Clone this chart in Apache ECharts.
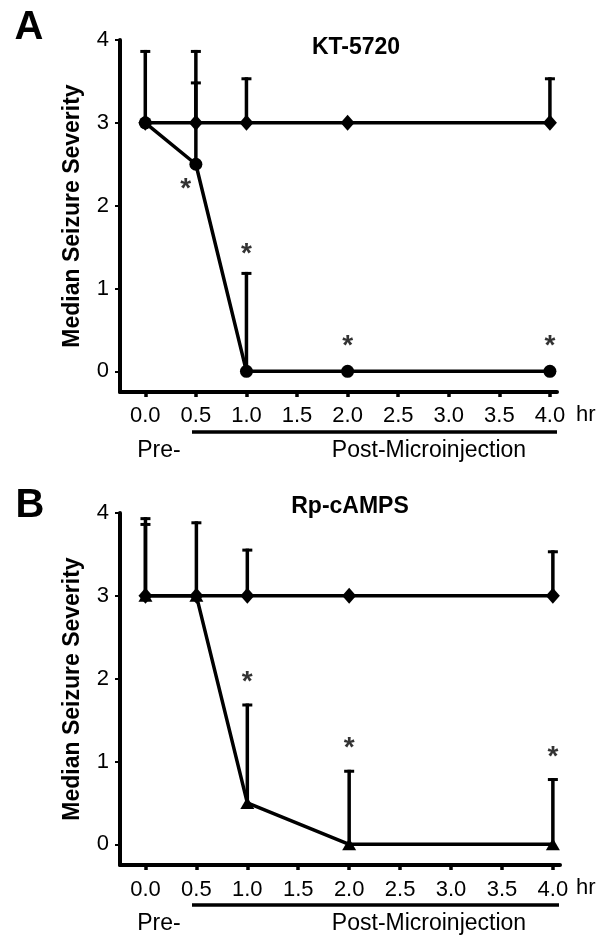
<!DOCTYPE html>
<html>
<head>
<meta charset="utf-8">
<script src="https://cdn.jsdelivr.net/npm/echarts@6/dist/echarts.min.js"></script>
<style>
  html, body { margin: 0; padding: 0; background: #fff; }
  #chart { width: 602px; height: 942px; }
</style>
</head>
<body>
<div id="chart"></div>
<script>
var FONT = '"Liberation Sans", Arial, sans-serif';

// sampling times (hr) and axis ticks
var hours = [0, 0.5, 1, 2, 4];
var xTicks = [0, 0.5, 1, 1.5, 2, 2.5, 3, 3.5, 4];
var yTicks = [0, 1, 2, 3, 4];

// panel A: KT-5720
var ctrlA = [3, 3, 3, 3, 3];
var ktA = [3, 2.5, 0, 0, 0];
var ctrlErrA = [[0, 3, 3.88], [0.5, 3, 3.88], [1, 3, 3.55], [4, 3, 3.55]];
var ktErrA = [[0.5, 2.5, 3.5], [1, 0, 1.2]];
var starsA = [[0.4, 2.27], [1, 1.49], [2, 0.37], [4, 0.37]];

// panel B: Rp-cAMPS
var ctrlB = [3, 3, 3, 3, 3];
var rpB = [3, 3, 0.5, 0, 0];
var ctrlErrB = [[0, 3, 3.88], [0.5, 3, 3.9], [1, 3, 3.57], [4, 3, 3.55]];
var rpErrB = [[0, 3, 3.95], [1, 0.5, 1.7], [2, 0, 0.9], [4, 0, 0.8]];
var starsB = [[1, 2.03], [2, 1.23], [4, 1.12]];

function pairs(xs, ys) {
    var res = [];
    for (var i = 0; i < xs.length; i++) {
        res.push([xs[i], ys[i]]);
    }
    return res;
}

function renderErr(params, api) {
    var x = api.value(0);
    var lo = api.coord([x, api.value(1)]);
    var hi = api.coord([x, api.value(2)]);
    return {
        type: 'group',
        children: [
            {type: 'line', shape: {x1: lo[0], y1: lo[1], x2: hi[0], y2: hi[1]},
             style: {stroke: '#000', lineWidth: 3.5}},
            {type: 'line', shape: {x1: hi[0] - 5, y1: hi[1] + 1.5, x2: hi[0] + 5, y2: hi[1] + 1.5},
             style: {stroke: '#000', lineWidth: 3}}
        ]
    };
}

function xAxisFor(gi, margin) {
    return {
        gridIndex: gi,
        type: 'value',
        min: -0.25,
        max: 4.07,
        axisLine: {onZero: false, lineStyle: {color: '#000', width: 4}},
        axisTick: {show: true, length: 5, customValues: xTicks, lineStyle: {color: '#000', width: 3.5}},
        axisLabel: {
            customValues: xTicks,
            formatter: function (v) { return v.toFixed(1); },
            fontSize: 22, color: '#000', margin: margin, fontFamily: FONT
        },
        splitLine: {show: false}
    };
}

function yAxisFor(gi) {
    return {
        gridIndex: gi,
        type: 'value',
        min: -0.25,
        max: 4,
        name: 'Median Seizure Severity',
        nameLocation: 'middle',
        nameGap: 36,
        nameTextStyle: {fontSize: 23, fontWeight: 'bold', color: '#000', fontFamily: FONT},
        axisLine: {show: true, onZero: false, lineStyle: {color: '#000', width: 4}},
        axisTick: {show: true, length: 5, customValues: yTicks, lineStyle: {color: '#000', width: 2}},
        axisLabel: {customValues: yTicks, fontSize: 22, color: '#000', margin: 11, fontFamily: FONT},
        splitLine: {show: false}
    };
}

function lineSeries(gi, data, symbol, size, z) {
    return {
        type: 'line',
        xAxisIndex: gi,
        yAxisIndex: gi,
        data: data,
        symbol: symbol,
        symbolSize: size,
        showAllSymbol: true,
        lineStyle: {color: '#000', width: 3.5},
        itemStyle: {color: '#000'},
        emphasis: {disabled: true},
        animation: false,
        z: z
    };
}

function errSeries(gi, data) {
    return {
        type: 'custom',
        xAxisIndex: gi,
        yAxisIndex: gi,
        data: data,
        encode: {x: 0, y: [1, 2]},
        renderItem: renderErr,
        animation: false,
        z: 1
    };
}

function starSeries(gi, data) {
    return {
        type: 'scatter',
        xAxisIndex: gi,
        yAxisIndex: gi,
        data: data,
        symbolSize: 1,
        itemStyle: {color: 'rgba(0,0,0,0)'},
        label: {
            show: true,
            position: 'inside',
            formatter: '*',
            fontSize: 28,
            fontWeight: 'bold',
            color: '#000',
            fontFamily: FONT,
            offset: [0, 6]
        },
        emphasis: {disabled: true},
        animation: false,
        z: 5
    };
}

function txt(x, y, s, font, align) {
    return {
        type: 'text', x: x, y: y,
        style: {text: s, font: font, fill: '#000', textAlign: align || 'center', textVerticalAlign: 'middle'}
    };
}

// period bracket under each x axis
function periodGraphic(axisY, endX) {
    return [
        {type: 'line', shape: {x1: 192, y1: axisY + 40, x2: endX, y2: axisY + 40},
         style: {stroke: '#000', lineWidth: 3.5}},
        txt(159, axisY + 59, 'Pre-', '23px ' + FONT),
        txt(429, axisY + 59, 'Post-Microinjection', '23px ' + FONT),
        txt(576, axisY + 23, 'hr', '22px ' + FONT, 'left')
    ];
}

var chart = echarts.init(document.getElementById('chart'), null, {renderer: 'canvas'});

var option = {
    backgroundColor: '#fff',
    animation: false,
    grid: [
        {left: 120, top: 40, width: 437, height: 352, outerBoundsMode: 'none'},
        {left: 120, top: 513, width: 440, height: 352, outerBoundsMode: 'none'}
    ],
    xAxis: [xAxisFor(0, 13), xAxisFor(1, 14)],
    yAxis: [yAxisFor(0), yAxisFor(1)],
    series: [
        errSeries(0, ktErrA),
        errSeries(0, ctrlErrA),
        lineSeries(0, pairs(hours, ktA), 'circle', 13, 2),
        lineSeries(0, pairs(hours, ctrlA), 'diamond', [14, 16], 3),
        starSeries(0, starsA),
        errSeries(1, rpErrB),
        errSeries(1, ctrlErrB),
        lineSeries(1, pairs(hours, rpB), 'triangle', [14, 12], 2),
        lineSeries(1, pairs(hours, ctrlB), 'diamond', [14, 16], 3),
        starSeries(1, starsB)
    ],
    graphic: [].concat(
        [
            txt(29, 28, 'A', 'bold 40px ' + FONT),
            txt(30, 506, 'B', 'bold 40px ' + FONT),
            txt(356, 48, 'KT-5720', 'bold 23px ' + FONT),
            txt(350, 507, 'Rp-cAMPS', 'bold 23px ' + FONT)
        ],
        periodGraphic(392, 557),
        periodGraphic(865, 559)
    )
};

chart.setOption(option);
</script>
</body>
</html>
